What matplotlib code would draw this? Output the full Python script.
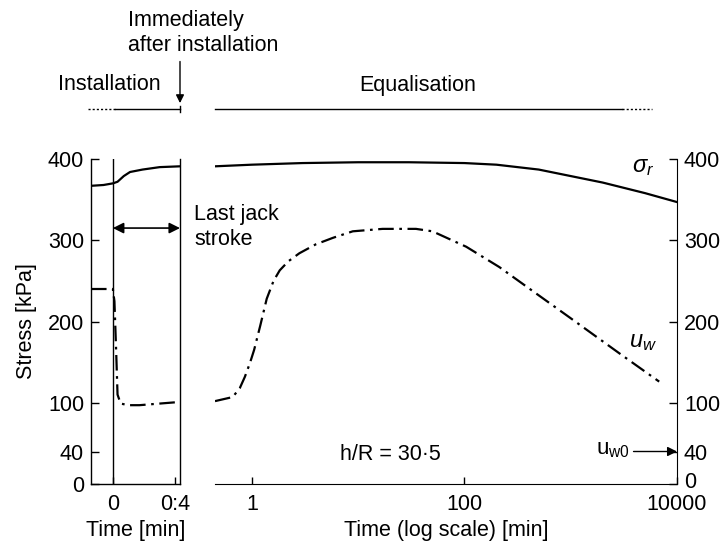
import matplotlib
matplotlib.use('Agg')
import matplotlib.pyplot as plt
import matplotlib.transforms as mtransforms
import numpy as np

plt.rcParams['font.family'] = ['Liberation Sans', 'DejaVu Sans']
plt.rcParams['mathtext.fontset'] = 'custom'
plt.rcParams['mathtext.rm'] = 'Liberation Sans'
plt.rcParams['mathtext.it'] = 'Liberation Sans:italic'
plt.rcParams['font.size'] = 15.5

# installation stage (linear time, min)
t_inst_sr = [-0.14, -0.06, 0.0, 0.03, 0.07, 0.11, 0.19, 0.30, 0.43]
sr_inst = [367, 368, 370, 372, 379, 384, 387, 390, 391]
t_inst_uw = [-0.14, -0.02, 0.0, 0.01, 0.02, 0.03, 0.05, 0.10, 0.17, 0.30, 0.43]
uw_inst = [240, 240, 240, 225, 170, 110, 99, 97, 97, 99, 101]

# equalisation stage (log time, min)
t_eq_sr = [0.45, 1, 3, 10, 30, 100, 200, 500, 1000, 2000, 5000, 10000]
sr_eq = [391, 393, 395, 396, 396, 395, 393, 387, 379, 371, 358, 347]
t_eq_uw = [0.45, 0.66, 0.77, 0.86, 0.96, 1.05, 1.2, 1.38, 1.6, 1.83, 2.2,
           2.8, 4, 5.8, 8.9, 17, 35, 50, 104, 213, 300, 1000, 3000, 6800]
uw_eq = [102, 107, 118, 132, 149, 165, 195, 228, 250, 263, 274,
         284, 295, 303, 311, 314, 314, 311, 292, 267, 253, 204, 159, 126]

yticks = [0, 40, 100, 200, 300, 400]

dashdot = (0, (7, 2.5, 1.2, 2.5))

fig = plt.figure(figsize=(7.22, 5.45), dpi=100)
W, H = 722, 545
ax1 = fig.add_axes([91 / W, 1 - 484 / H, 89 / W, 325 / H])
ax2 = fig.add_axes([215 / W, 1 - 484 / H, 462 / W, 325 / H])

# left panel
ax1.plot(t_inst_sr, sr_inst, color='black', lw=1.6)
ax1.plot(t_inst_uw, uw_inst, color='black', lw=1.6, linestyle=dashdot)
ax1.axvline(0, color='black', lw=1)
ax1.set_xlim(-0.14, 0.43)
ax1.set_ylim(0, 400)
ax1.set_xticks([0, 0.4])
ax1.set_xticklabels(['0', '0:4'])
ax1.set_yticks(yticks)
ax1.spines['top'].set_visible(False)
for s in ['left', 'bottom', 'right']:
    ax1.spines[s].set_linewidth(1)
ax1.tick_params(direction='in', length=6, width=1, pad=5)
ax1.tick_params(axis='x', length=5, pad=7)
ax1.set_ylabel('Stress [kPa]', labelpad=8)
ax1.set_xlabel('Time [min]', labelpad=4)

ax1.annotate('', xy=(0.0, 315), xytext=(0.43, 315),
             arrowprops=dict(arrowstyle='<|-|>', color='black', lw=1.2,
                             mutation_scale=16, shrinkA=0, shrinkB=0))

# header for installation
tr1 = ax1.get_xaxis_transform()
ax1.plot([-0.159, 0.014], [1.154, 1.154], transform=tr1, clip_on=False,
         color='black', lw=1, linestyle=(0, (1.5, 1.5)))
ax1.plot([0.014, 0.43], [1.154, 1.154], transform=tr1, clip_on=False,
         color='black', lw=1)
ax1.plot([0.43, 0.43], [1.145, 1.163], transform=tr1, clip_on=False,
         color='black', lw=1)
ax1.annotate('', xy=(0.43, 1.172), xytext=(0.43, 1.30), xycoords=tr1,
             textcoords=tr1,
             arrowprops=dict(arrowstyle='-|>', color='black', lw=1,
                             mutation_scale=12, shrinkA=0, shrinkB=0))

# right panel
ax2.plot(t_eq_sr, sr_eq, color='black', lw=1.6)
ax2.plot(t_eq_uw, uw_eq, color='black', lw=1.6, linestyle=dashdot)
ax2.set_xscale('log')
ax2.set_xlim(0.45, 10000)
ax2.set_ylim(0, 400)
ax2.set_xticks([1, 100, 10000])
ax2.set_xticklabels(['1', '100', '10000'])
ax2.xaxis.set_minor_locator(matplotlib.ticker.NullLocator())
ax2.set_yticks(yticks)
ax2.yaxis.tick_right()
ax2.spines['top'].set_visible(False)
ax2.spines['left'].set_visible(False)
ax2.tick_params(direction='in', length=6, width=1, pad=5)
ax2.tick_params(axis='x', length=5, pad=7)
ax2.set_xlabel('Time (log scale) [min]', labelpad=4)

# lift the right-hand "0" a little so it clears "10000"
lbl0 = ax2.get_yticklabels()[0]
lbl0.set_transform(lbl0.get_transform() +
                   mtransforms.ScaledTranslation(0, 4 / 100, fig.dpi_scale_trans))

tr2 = ax2.get_xaxis_transform()
ax2.plot([0.45, 3030], [1.154, 1.154], transform=tr2, clip_on=False,
         color='black', lw=1)
ax2.plot([3030, 5850], [1.154, 1.154], transform=tr2, clip_on=False,
         color='black', lw=1, linestyle=(0, (1.5, 1.5)))

ax2.text(4800, 390, r'$\sigma_r$', fontsize=17, ha='center', va='center')
ax2.text(4800, 175, r'$u_w$', fontsize=17, ha='center', va='center')
ax2.text(20, 36, 'h/R = 30·5', ha='center', va='center')
ax2.text(2500, 42, r'$\mathregular{u_{w0}}$', ha='center', va='center',
         fontsize=16)
ax2.annotate('', xy=(10000, 40), xytext=(3900, 40),
             arrowprops=dict(arrowstyle='-|>', color='black', lw=1,
                             mutation_scale=14, shrinkA=0, shrinkB=0))

# figure texts
fig.text(128 / W, 1 - 33 / H, 'Immediately\nafter installation', ha='left',
         va='center', linespacing=1.3)
fig.text(109 / W, 1 - 85 / H, 'Installation', ha='center', va='center')
fig.text(418 / W, 1 - 85 / H, 'Equalisation', ha='center', va='center')
fig.text(194 / W, 1 - 227 / H, 'Last jack\nstroke', ha='left', va='center',
         linespacing=1.25)

fig.savefig('out.png', dpi=100)
